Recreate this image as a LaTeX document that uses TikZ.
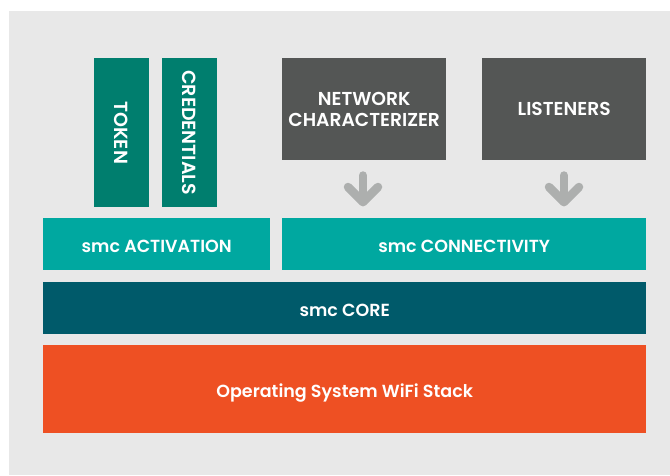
\documentclass[tikz,border=0pt]{standalone}
\usepackage{fontspec}
\setmainfont{Poppins}[UprightFont=* SemiBold]
\definecolor{bgc}{RGB}{232,232,232}
\definecolor{tokc}{RGB}{0,126,110}
\definecolor{actc}{RGB}{0,168,160}
\definecolor{corec}{RGB}{0,90,106}
\definecolor{osc}{RGB}{238,80,35}
\definecolor{grayc}{RGB}{84,86,85}
\definecolor{arrc}{RGB}{173,175,174}
\begin{document}
\begin{tikzpicture}[x=1pt,y=-1pt,
  blk/.style={fill=#1, draw=none, text=white, inner sep=0pt, anchor=north west,
    font=\fontsize{17.5}{21}\selectfont, align=center},
  layer/.style={text height=15.8pt, text depth=0pt},
  bigtxt/.style={font=\fontsize{18.7}{21}\selectfont},
  vtxt/.style={text=white, rotate=-90, inner sep=0pt, font=\fontsize{19}{21}\selectfont},
  downarrow/.style={draw=arrc, line width=8.5pt, line cap=round, line join=round}]
\useasboundingbox (0,0) rectangle (670,475);
\fill[white] (0,0) rectangle (670,475);
\fill[bgc] (9,11) rectangle (670,475);
% vertical boxes
\node[blk=tokc, minimum width=55pt, minimum height=149pt] (token) at (94,58) {};
\node[vtxt] (tokentxt) at ([xshift=-1pt]token.center) {TOKEN};
\node[blk=tokc, minimum width=55pt, minimum height=149pt] (cred) at (162,58) {};
\node[vtxt] (credtxt) at ([xshift=-1pt]cred.center) {CREDENTIALS};
% gray boxes
\node[blk=grayc, bigtxt, minimum width=164pt, minimum height=102pt] (net) at (282,58) {NETWORK\\CHARACTERIZER};
\node[blk=grayc, bigtxt, minimum width=164pt, minimum height=102pt] (lis) at (482,58) {LISTENERS};
% layers
\node[blk=actc, layer, minimum width=227pt, minimum height=52pt] (act) at (43,218) {smc ACTIVATION};
\node[blk=actc, layer, minimum width=364pt, minimum height=52pt] (conn) at (282,218) {smc CONNECTIVITY};
\node[blk=corec, layer, minimum width=603pt, minimum height=52pt] (core) at (43,282) {smc CORE};
\node[blk=osc, layer, minimum width=603pt, minimum height=88pt] (os) at (43,345) {Operating System WiFi Stack};
% arrows
\coordinate (a1t) at (363,175.5);
\coordinate (a1b) at (363,202);
\coordinate (a1l) at (348,187);
\coordinate (a1r) at (378,187);
\draw[downarrow] (a1t) -- (a1b);
\draw[downarrow] (a1l) -- (a1b) -- (a1r);
\coordinate (a2t) at (564,175.5);
\coordinate (a2b) at (564,202);
\coordinate (a2l) at (549,187);
\coordinate (a2r) at (579,187);
\draw[downarrow] (a2t) -- (a2b);
\draw[downarrow] (a2l) -- (a2b) -- (a2r);
\end{tikzpicture}
\end{document}
